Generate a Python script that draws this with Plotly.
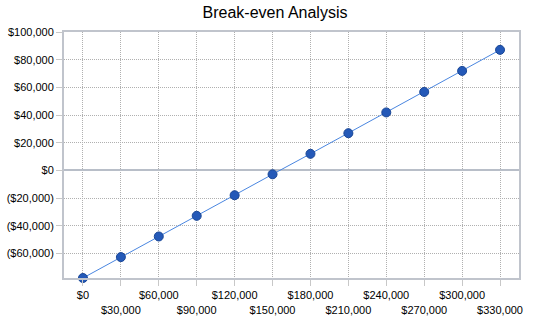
import plotly.graph_objects as go

sales = [0, 30000, 60000, 90000, 120000, 150000, 180000, 210000, 240000, 270000, 300000, 330000]
profit = [-77700, -62600, -47700, -32800, -17900, -2800, 12000, 26900, 41900, 56700, 71900, 87100]

x_ticks = sales
x_labels = ["$0", "$30,000", "$60,000", "$90,000", "$120,000", "$150,000", "$180,000",
            "$210,000", "$240,000", "$270,000", "$300,000", "$330,000"]
y_ticks = [-60000, -40000, -20000, 0, 20000, 40000, 60000, 80000, 100000]
y_labels = ["($60,000)", "($40,000)", "($20,000)", "$0", "$20,000", "$40,000", "$60,000", "$80,000", "$100,000"]

x_text = [lab if i % 2 == 0 else "<br>" + lab for i, lab in enumerate(x_labels)]

fig = go.Figure()
fig.add_trace(go.Scatter(
    x=sales, y=profit, mode="lines+markers",
    line=dict(color="#4a86e0", width=1),
    marker=dict(size=9, color="#2459b8", line=dict(color="#1a4796", width=1)),
    hoverinfo="skip", showlegend=False, cliponaxis=False,
))

font = "Liberation Sans, Arial, sans-serif"
fig.update_layout(
    width=550, height=318,
    margin=dict(l=64, r=31, t=32, b=40),
    paper_bgcolor="white", plot_bgcolor="white",
    title=dict(text="Break-even Analysis", x=0.5, xanchor="center", y=0.96, yanchor="middle",
               font=dict(family=font, size=16, color="#000000")),
    font=dict(family=font, size=11, color="#000000"),
)
fig.update_xaxes(
    range=[-15000, 345000], tickvals=x_ticks, ticktext=x_text, tickangle=0, automargin=False,
    showgrid=True, gridcolor="#b0b0b0", griddash="1px,1px", gridwidth=1,
    showline=True, linecolor="#c0c4cc", linewidth=2, mirror=True,
    ticks="outside", ticklen=6, tickcolor="#c8c8c8",
    zeroline=False, tickfont=dict(family=font, size=11, color="#000000"),
)
fig.update_yaxes(
    range=[-77700, 100000], tickvals=y_ticks, ticktext=y_labels, automargin=False,
    showgrid=True, gridcolor="#b0b0b0", griddash="1px,1px", gridwidth=1,
    showline=True, linecolor="#c0c4cc", linewidth=2, mirror=True,
    ticks="outside", ticklen=6, tickcolor="#c8c8c8",
    zeroline=True, zerolinecolor="#b8bec8", zerolinewidth=1.5,
    tickfont=dict(family=font, size=11, color="#000000"),
)

fig.write_html("out.html")
